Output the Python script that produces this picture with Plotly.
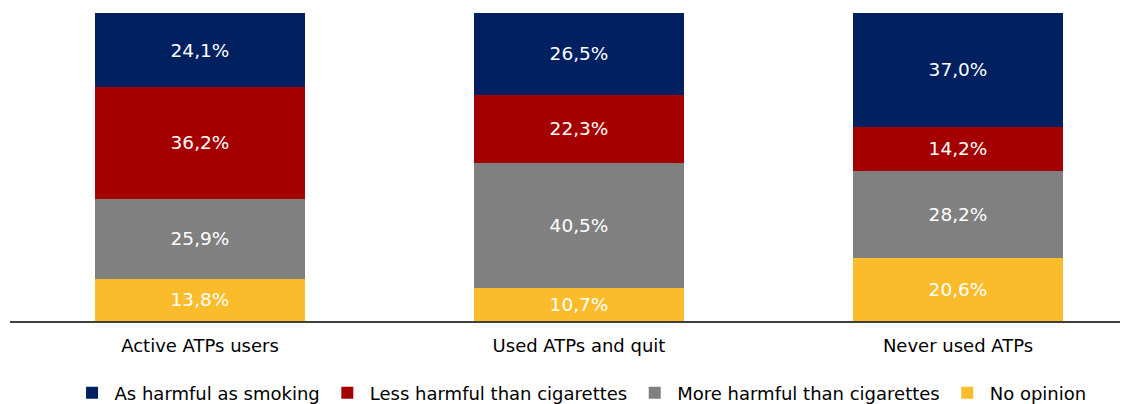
import plotly.graph_objects as go

categories = ['Active ATPs users', 'Used ATPs and quit', 'Never used ATPs']
as_harmful = [24.1, 26.5, 37.0]
less_harmful = [36.2, 22.3, 14.2]
more_harmful = [25.9, 40.5, 28.2]
no_opinion = [13.8, 10.7, 20.6]

# bottom to top
series = [
    ('No opinion', no_opinion, '#FBBC2B'),
    ('More harmful than cigarettes', more_harmful, '#808080'),
    ('Less harmful than cigarettes', less_harmful, '#A50000'),
    ('As harmful as smoking', as_harmful, '#002060'),
]

FONT = 'DejaVu Sans, Verdana, sans-serif'
xpos = list(range(len(categories)))

fig = go.Figure()
for name, vals, col in series:
    fig.add_trace(go.Bar(
        x=xpos, y=vals, name=name,
        marker=dict(color=col, line=dict(width=0)),
        width=0.554,
        text=[f'{v:.1f}%'.replace('.', ',') for v in vals],
        textposition='inside', insidetextanchor='middle',
        textfont=dict(color='white', size=18.5, family=FONT),
        hoverinfo='skip',
    ))

# page body has an 8px margin, so the figure is a bit smaller than the window
fig.update_layout(
    barmode='stack',
    width=1126, height=396,
    margin=dict(l=2, r=14, t=5, b=83, autoexpand=False),
    plot_bgcolor='white', paper_bgcolor='white',
    font=dict(family=FONT, size=18, color='black'),
    showlegend=True,
    legend=dict(orientation='h', traceorder='reversed',
                x=0.514, xanchor='center', y=-0.234, yanchor='middle',
                font=dict(size=18, family=FONT), itemwidth=35),
    uniformtext=dict(minsize=10, mode='show'),
)
fig.update_xaxes(range=[-0.5013, 2.4274], tickvals=xpos, ticktext=categories,
                 showline=True, linecolor='#404040', linewidth=1.5,
                 ticks='', showgrid=False, zeroline=False, automargin=False,
                 ticklabelstandoff=8,
                 tickfont=dict(size=18, family=FONT, color='black'))
fig.update_yaxes(range=[0, 100], visible=False, showgrid=False)

fig.write_html('out.html')
